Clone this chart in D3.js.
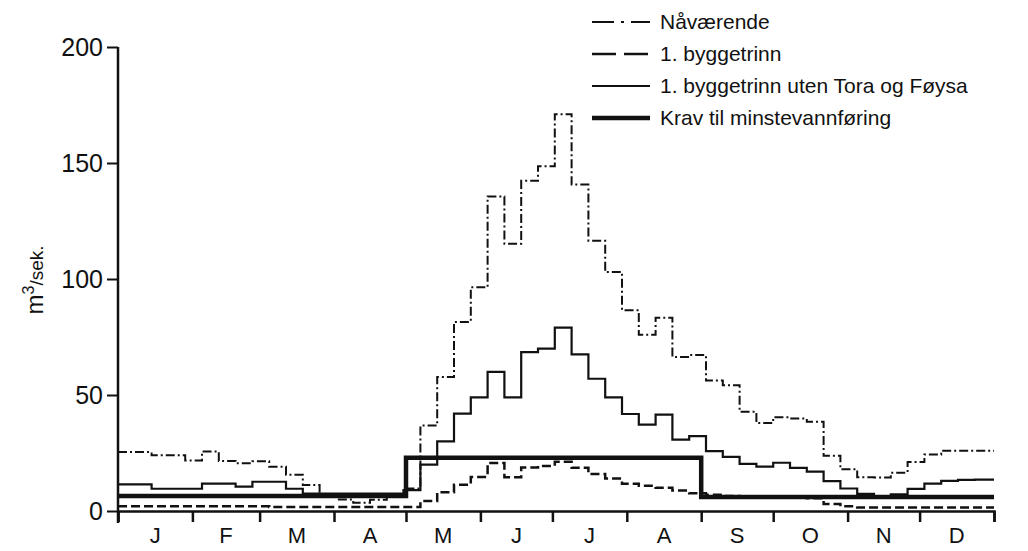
<!DOCTYPE html>
<html>
<head>
<meta charset="utf-8">
<script src="https://cdn.jsdelivr.net/npm/d3@7"></script>
<style>
  body { margin: 0; background: #fff; }
  svg text { font-family: "Liberation Sans", Arial, sans-serif; fill: #111; }
</style>
</head>
<body>
<div id="chart"></div>
<script>
// weekly mean flow, m3/s (week i starts on day 7*i)
const navaerende = [25.4, 25.4, 24, 24, 21.8, 25.7, 21.6, 20.6, 21.4, 19.1, 15.6, 11.2, 6.8, 5, 3.6, 4.8, 6.8, 9.7,
  36.8, 57.8, 81.5, 96.4, 135.6, 115.2, 142.3, 148.6, 171, 140.7, 116.5, 103, 86.5, 76, 83.3, 66.4, 67.2,
  56.3, 54.2, 42.8, 37.9, 40.4, 39.9, 38.5, 23.8, 18, 14.5, 14.4, 16.5, 21.1, 24.4, 26, 26, 26];
const byggetrinn = [2, 2, 2, 2, 2, 2, 2, 2, 2, 1.7, 1.7, 1.7, 1.7, 1.7, 1.7, 1.7, 1.7, 1.7,
  4.3, 8.1, 11.3, 14.7, 20.7, 14.6, 18.8, 19.4, 21.2, 18.6, 15.9, 14, 11.7, 10.9, 10, 8.8, 7.7,
  7, 6.5, 6.2, 6, 6, 6, 5.5, 3, 2, 1.5, 1.5, 1.5, 1.5, 1.5, 1.5, 1.5, 1.5];
const utenToraFoysa = [11.5, 11.5, 9.6, 9.6, 9.6, 11.8, 11.8, 10.5, 12.6, 12.6, 9.6, 7.5, 7.5, 7.5, 7.5, 7.5, 7.5, 9,
  20, 30, 42, 49, 60, 49, 68.5, 70, 79, 67.5, 57, 49, 41.8, 37.2, 41.5, 30.8, 32.3,
  25.8, 23.3, 20.3, 19.1, 20.8, 18.6, 17, 12.9, 9.7, 7.4, 5.9, 7.2, 9.5, 11.8, 13, 13.4, 13.5];
// minimum flow requirement: start day and value
const kravStart = [0, 120, 243];
const kravValue = [6.5, 23, 6];

const monthStarts = [0, 31, 59, 90, 120, 151, 181, 212, 243, 273, 304, 334, 365];
const monthLabels = ["J", "F", "M", "A", "M", "J", "J", "A", "S", "O", "N", "D"];
const yTicks = [0, 50, 100, 150, 200];

const legendNames = ["Nåværende", "1. byggetrinn", "1. byggetrinn uten Tora og Føysa", "Krav til minstevannføring"];

const width = 1028, height = 551;

const svg = d3.select("#chart").append("svg")
  .attr("width", width)
  .attr("height", height);

const x = d3.scaleLinear().domain([0, 365]).range([118, 994]);
const y = d3.scaleLinear().domain([0, 200]).range([511, 47]);

// turn weekly values into step points
function weekly(values) {
  const pts = values.map((v, i) => [i * 7, v]);
  pts.push([365, values[values.length - 1]]);
  return pts;
}
const kravPts = kravStart.map((d, i) => [d, kravValue[i]]);
kravPts.push([365, kravValue[kravValue.length - 1]]);

const line = d3.line()
  .x(d => x(d[0]))
  .y(d => y(d[1]))
  .curve(d3.curveStepAfter);

// axes
const yAxis = svg.append("g")
  .attr("transform", "translate(" + x(0) + ",0)")
  .call(d3.axisLeft(y).tickValues(yTicks).tickSize(11).tickPadding(4));
yAxis.select(".domain").remove();
yAxis.selectAll(".tick line").attr("stroke", "#111").attr("stroke-width", 2);
yAxis.selectAll(".tick text").attr("font-size", 25).style("font-family", "'Liberation Sans', Arial, sans-serif");

svg.append("line")
  .attr("x1", x(0)).attr("x2", x(0))
  .attr("y1", y(200)).attr("y2", 523)
  .attr("stroke", "#111").attr("stroke-width", 2.5);

const xAxis = svg.append("g")
  .attr("transform", "translate(0," + y(0) + ")")
  .call(d3.axisBottom(x).tickValues(monthStarts).tickSize(11).tickFormat(""));
xAxis.select(".domain").attr("stroke", "#111").attr("stroke-width", 2.5);
xAxis.selectAll(".tick line").attr("stroke", "#111").attr("stroke-width", 2.5);

svg.append("g")
  .selectAll("text")
  .data(monthLabels)
  .enter()
  .append("text")
  .attr("x", (d, i) => x((monthStarts[i] + monthStarts[i + 1]) / 2))
  .attr("y", 543)
  .attr("text-anchor", "middle")
  .attr("font-size", 22)
  .text(d => d);

// y title
const yTitle = svg.append("text")
  .attr("transform", "translate(43,280) rotate(-90)")
  .attr("text-anchor", "middle");
yTitle.append("tspan").attr("font-size", 24).text("m");
yTitle.append("tspan").attr("font-size", 16).attr("dy", -9).text("3");
yTitle.append("tspan").attr("font-size", 19).attr("dy", 9).text("/sek.");

// series
const series = [
  { pts: weekly(navaerende), w: 2, dash: "9,3,2,3", legendDash: "22,7,3,7,22" },
  { pts: weekly(byggetrinn), w: 2.5, dash: "9,4", legendDash: "24,8" },
  { pts: weekly(utenToraFoysa), w: 2.2, dash: null, legendDash: null },
  { pts: kravPts, w: 4.5, dash: null, legendDash: null }
];

svg.append("g")
  .selectAll("path")
  .data(series)
  .enter()
  .append("path")
  .attr("d", d => line(d.pts))
  .attr("fill", "none")
  .attr("stroke", "#111")
  .attr("stroke-width", d => d.w)
  .attr("stroke-dasharray", d => d.dash);

// legend
const legendY = [22, 54, 86, 118];
const legend = svg.append("g");
legend.selectAll("line")
  .data(series)
  .enter()
  .append("line")
  .attr("x1", 592).attr("x2", 650)
  .attr("y1", (d, i) => legendY[i]).attr("y2", (d, i) => legendY[i])
  .attr("stroke", "#111")
  .attr("stroke-width", d => d.w)
  .attr("stroke-dasharray", d => d.legendDash);
legend.selectAll("text")
  .data(legendNames)
  .enter()
  .append("text")
  .attr("x", 660)
  .attr("y", (d, i) => legendY[i])
  .attr("dy", "0.35em")
  .attr("font-size", 21)
  .text(d => d);
</script>
</body>
</html>
